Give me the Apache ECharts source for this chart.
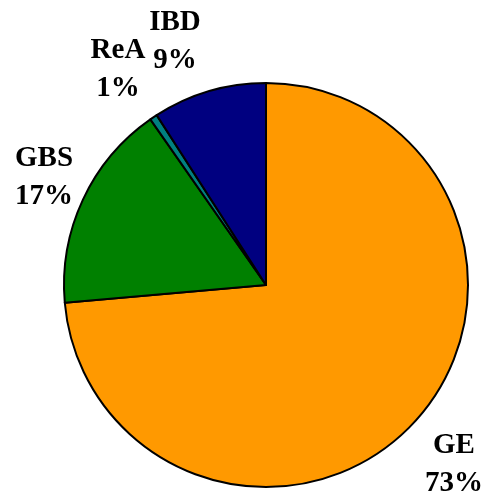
<!DOCTYPE html>
<html>
<head>
<meta charset="utf-8">
<script src="https://cdn.jsdelivr.net/npm/echarts@6/dist/echarts.min.js"></script>
<style>html,body{margin:0;padding:0;background:#fff;}#c{width:486px;height:497px;}</style>
</head>
<body>
<div id="c"></div>
<script>
var categories = ['GE', 'GBS', 'ReA', 'IBD'];
var values = [73.6, 16.7, 0.6, 9.1];
var pctLabels = ['73%', '17%', '1%', '9%'];
var colors = ['#FF9900', '#008000', '#008080', '#000080'];
var labelPos = [[454, 465], [44, 178], [118, 70], [175, 42]];

var chart = echarts.init(document.getElementById('c'), null, {renderer: 'canvas'});
chart.setOption({
  backgroundColor: '#ffffff',
  animation: false,
  series: [{
    type: 'pie',
    center: [266, 285],
    radius: 202,
    startAngle: 90,
    clockwise: true,
    avoidLabelOverlap: false,
    itemStyle: {borderColor: '#000', borderWidth: 2},
    label: {
      show: true,
      position: 'outside',
      color: '#000',
      fontFamily: '"Liberation Serif", "Times New Roman", serif',
      fontWeight: 'bold',
      fontSize: 29,
      lineHeight: 38,
      align: 'center',
      formatter: function (p) { return p.name + '\n' + pctLabels[p.dataIndex]; }
    },
    labelLine: {show: false},
    labelLayout: function (p) {
      var pos = labelPos[p.dataIndex];
      return {x: pos[0], y: pos[1], align: 'center', verticalAlign: 'middle'};
    },
    emphasis: {disabled: true},
    data: categories.map(function (c, i) {
      return {name: c, value: values[i], itemStyle: {color: colors[i]}};
    })
  }]
});
</script>
</body>
</html>
